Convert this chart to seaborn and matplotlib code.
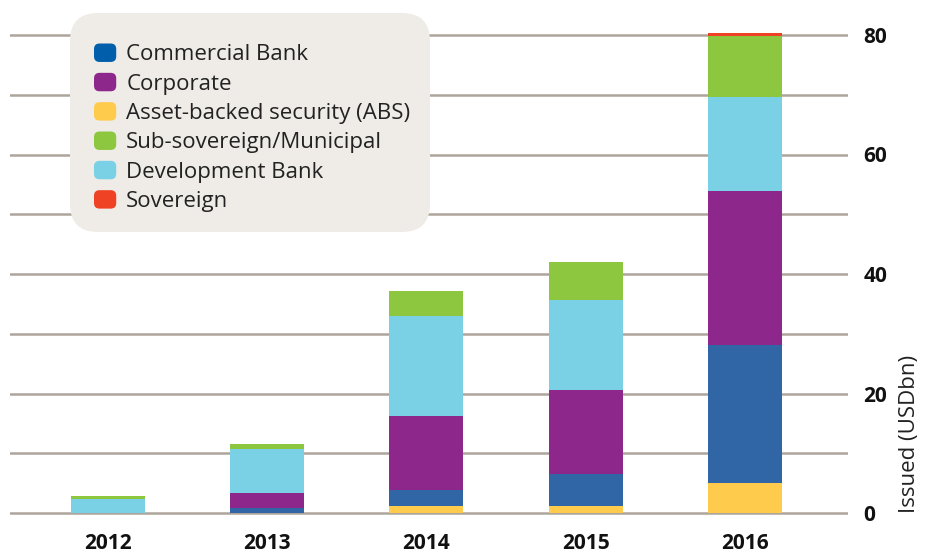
import matplotlib
matplotlib.use("Agg")
import matplotlib.pyplot as plt
import seaborn as sns
import numpy as np
import pandas as pd
from matplotlib.patches import Patch, FancyBboxPatch
from matplotlib.legend_handler import HandlerPatch

years = ["2012", "2013", "2014", "2015", "2016"]
abs_sec = [0.0, 0.0, 1.2, 1.2, 5.0]
commercial_bank = [0.0, 0.8, 2.7, 5.4, 23.2]
corporate = [0.0, 2.5, 12.3, 14.0, 25.7]
development_bank = [2.3, 7.4, 16.8, 15.1, 15.8]
sub_sovereign = [0.5, 0.85, 4.2, 6.35, 10.2]
sovereign = [0.0, 0.0, 0.0, 0.0, 0.5]

y_ticks = [0, 20, 40, 60, 80]

# stacking order bottom -> top
stack_names = ["Asset-backed security (ABS)", "Commercial Bank", "Corporate",
               "Development Bank", "Sub-sovereign/Municipal", "Sovereign"]
stack_vals = [abs_sec, commercial_bank, corporate, development_bank, sub_sovereign, sovereign]
bar_colors = {
    "Commercial Bank": "#3066A5",
    "Corporate": "#8E278B",
    "Asset-backed security (ABS)": "#FFCB4C",
    "Sub-sovereign/Municipal": "#8DC63F",
    "Development Bank": "#7AD0E4",
    "Sovereign": "#EF4123",
}
legend_colors = {
    "Commercial Bank": "#005EAA",
    "Corporate": "#8E278B",
    "Asset-backed security (ABS)": "#FFCB4C",
    "Sub-sovereign/Municipal": "#8DC63F",
    "Development Bank": "#7AD0E4",
    "Sovereign": "#EF4123",
}
legend_order = ["Commercial Bank", "Corporate", "Asset-backed security (ABS)",
                "Sub-sovereign/Municipal", "Development Bank", "Sovereign"]

sns.set_theme(style="white")
plt.rcParams['font.family'] = ['Open Sans', 'DejaVu Sans']

W, H = 934, 552
fig = plt.figure(figsize=(W / 100, H / 100), dpi=100)
ymin, ymax = -0.3, 80.84
ppu = (513 - 35) / 80.0
bot_px = 513 + (0 - ymin) * ppu
top_px = 35 - (ymax - 80) * ppu
ax = fig.add_axes([10 / W, 1 - bot_px / H, (848 - 10) / W, (bot_px - top_px) / H])

cum = np.cumsum(np.array(stack_vals), axis=0)
for i in range(len(stack_names) - 1, -1, -1):
    df = pd.DataFrame({"year": years, "value": cum[i]})
    sns.barplot(data=df, x="year", y="value", color=bar_colors[stack_names[i]],
                saturation=1, width=0.464, errorbar=None, ax=ax, linewidth=0,
                zorder=3)

ax.set_xlim(-0.614, 4.646)
ax.set_ylim(ymin, ymax)
ax.set_yticks(np.arange(0, 81, 10))
ax.set_yticklabels([str(v) if v in y_ticks else "" for v in range(0, 81, 10)])
ax.yaxis.tick_right()
ax.yaxis.grid(True, color="#ADA59B", linewidth=1.8, zorder=0)
ax.xaxis.grid(False)
ax.set_axisbelow(True)
for s in ax.spines.values():
    s.set_visible(False)
ax.tick_params(axis="both", length=0)
ax.tick_params(axis="y", pad=11, labelsize=15)
ax.tick_params(axis="x", pad=13, labelsize=15)
for lab in ax.get_xticklabels() + ax.get_yticklabels():
    lab.set_fontweight("bold")
    lab.set_color("#111111")
ax.set_xlabel("")
ax.yaxis.set_label_position("right")
ax.set_ylabel("Issued (USDbn)", fontsize=16, loc="bottom", color="#222222")
ax.yaxis.set_label_coords((899 - 10) / (848 - 10), (513 - bot_px) / (top_px - bot_px))

# legend background panel (rounded)
panel = FancyBboxPatch((70 / W, 1 - 232 / H), 360 / W, 219 / H,
                       boxstyle="round,pad=0,rounding_size=0.03",
                       transform=fig.transFigure, facecolor="#EFECE7",
                       edgecolor="none", zorder=5, mutation_aspect=W / H)
fig.patches.append(panel)


def rounded_square(legend, orig_handle, xdescent, ydescent, width, height, fontsize):
    r = min(width, height) * 0.3
    return FancyBboxPatch((-xdescent, -ydescent), width, height,
                          boxstyle=f"round,pad=0,rounding_size={r}")


fs = 16.0
handles = [Patch(facecolor=legend_colors[n], edgecolor="none", label=n) for n in legend_order]
leg = fig.legend(handles=handles, loc="upper left", bbox_to_anchor=(94 / W, 1 - 43.5 / H),
                 bbox_transform=fig.transFigure, fontsize=fs, frameon=False,
                 handlelength=1.0, handleheight=0.9, handletextpad=0.45,
                 labelspacing=0.335, borderpad=0, borderaxespad=0,
                 handler_map={Patch: HandlerPatch(patch_func=rounded_square)})
leg.set_zorder(6)
for t in leg.get_texts():
    t.set_color("#222222")

fig.savefig("out.png", dpi=100)
